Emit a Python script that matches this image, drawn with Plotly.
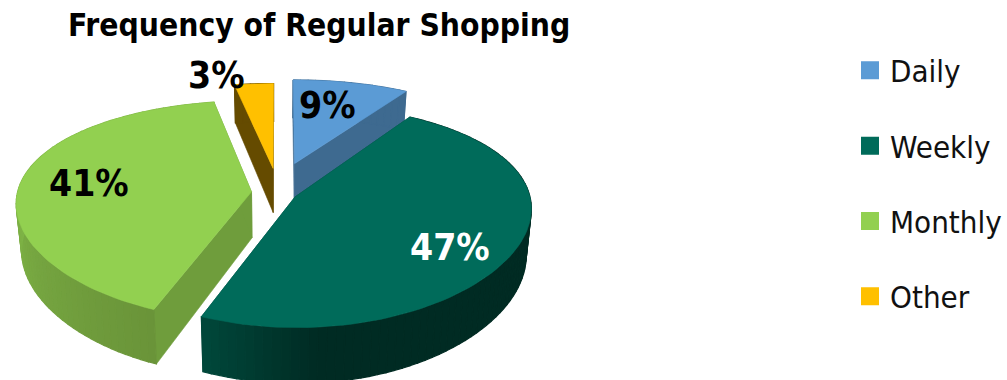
import math
import plotly.graph_objects as go

# Survey results
categories = ["Daily", "Weekly", "Monthly", "Other"]
percent = [9, 47, 41, 3]
label_text = ["9%", "47%", "41%", "3%"]

# Styling
top_colors = ["#5B9BD5", "#006B5A", "#92D050", "#FFC000"]
side_colors = ["#3E6A90", "#00483C", "#6F9D3C", "#654B00"]
rim_from = ["#3E6A90", "#002B23", "#6A9439", "#654B00"]
rim_to = ["#3E6A90", "#00493C", "#80B547", "#654B00"]
rim_span = [(0, 1), (0.84, 1), (0, 0.5), (0, 1)]
explode = [0.30, 0.08, 0.115, 0.24]
lateral = [-0.012, 0, 0, 0]
draw_order = [3, 0, 2, 1]
label_colors = ["black", "white", "black", "black"]
label_pos = [(330, 105), (454, 247), (90, 183), (218, 75)]
FONT = "DejaVu Sans Condensed"

# Projection of the tilted disc
CX, CY = 280.5, 193
RX, RY = 236, 107
PERSPECTIVE_X = 0.10
PERSPECTIVE_Y = 0.17
TAPER = 0.00045
DEPTH = 46


def project(wx, wz, drop=0.0):
    sx = (1 - TAPER * drop) / (1 + PERSPECTIVE_X * wz)
    sy = 1 / (1 + PERSPECTIVE_Y * wz)
    return CX + RX * wx * sx, CY - RY * wz * sy + drop * sy


def mix(c1, c2, t):
    a = [int(c1[i:i + 2], 16) for i in (1, 3, 5)]
    b = [int(c2[i:i + 2], 16) for i in (1, 3, 5)]
    return "#%02x%02x%02x" % tuple(round(p + (q - p) * t) for p, q in zip(a, b))


def polygon(points, color, edge=0.6):
    xs, ys = zip(*points)
    return go.Scatter(
        x=list(xs) + [xs[0]], y=list(ys) + [ys[0]], mode="lines", fill="toself",
        fillcolor=color, line=dict(color=color, width=edge),
        hoverinfo="skip", showlegend=False,
    )


fig = go.Figure()

# Legend entries
for name, color in zip(categories, top_colors):
    fig.add_trace(go.Scatter(
        x=[None], y=[None], mode="markers", name=name, legendgroup=name,
        marker=dict(symbol="square", size=16, color=color, line=dict(color=color, width=2)),
    ))

# Slice angles, clockwise from twelve o'clock
total = sum(percent)
bounds, running = [], 0.0
for p in percent:
    bounds.append((running, running + p / total * 2 * math.pi))
    running += p / total * 2 * math.pi

for i in draw_order:
    start, end = bounds[i]
    mid = (start + end) / 2
    ox, oz = explode[i] * math.sin(mid) + lateral[i], explode[i] * math.cos(mid)
    n = max(2, int(math.degrees(end - start) / 2))
    angles = [start + (end - start) * j / n for j in range(n + 1)]
    rim = [(ox + math.sin(t), oz + math.cos(t)) for t in angles]
    apex = (ox, oz)

    # Flat cut faces
    for edge in (rim[0], rim[-1]):
        fig.add_trace(polygon(
            [project(*apex), project(*edge), project(*edge, DEPTH), project(*apex, DEPTH)],
            side_colors[i],
        ))

    # Curved outer wall, shaded strip by strip
    lo, hi = rim_span[i]
    for j in range(n):
        t = min(1, max(0, (j / n - lo) / (hi - lo)))
        fig.add_trace(polygon(
            [project(*rim[j]), project(*rim[j + 1]),
             project(*rim[j + 1], DEPTH), project(*rim[j], DEPTH)],
            mix(rim_from[i], rim_to[i], t), edge=1.2,
        ))

    # Top surface
    fig.add_trace(polygon([project(*apex)] + [project(*q) for q in rim], top_colors[i]))

annotations = [
    dict(x=322, y=25, text="<b>Frequency of Regular Shopping</b>", showarrow=False,
         font=dict(family=FONT, size=31.5, color="black")),
]
for text, color, (x, y) in zip(label_text, label_colors, label_pos):
    annotations.append(dict(x=x, y=y, text=f"<b>{text}</b>", showarrow=False,
                            font=dict(family=FONT, size=37, color=color)))

fig.update_layout(
    width=1007, height=380, margin=dict(l=0, r=0, t=0, b=0),
    paper_bgcolor="white", plot_bgcolor="white",
    xaxis=dict(range=[0, 1007], visible=False, fixedrange=True),
    yaxis=dict(range=[380, 0], visible=False, fixedrange=True),
    annotations=annotations,
    legend=dict(x=0.851, y=0.885, xanchor="left", yanchor="top", tracegroupgap=32,
                itemsizing="trace", itemwidth=30, bgcolor="rgba(0,0,0,0)",
                font=dict(family=FONT, size=31, color="#111111")),
)

fig.write_html("out.html", config=dict(displayModeBar=False))
